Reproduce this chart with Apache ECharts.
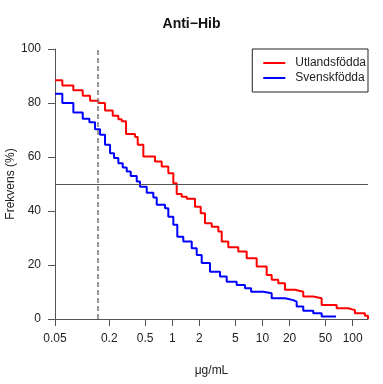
<!DOCTYPE html>
<html><head><meta charset="utf-8">
<script src="https://cdn.jsdelivr.net/npm/echarts@6/dist/echarts.min.js"></script>
<style>html,body{margin:0;padding:0;background:#fff}#c{width:383px;height:384px}</style>
</head><body><div id="c"></div>
<script>
const titleText = 'Anti\u2212Hib';
const seriesNames = ['Utlandsfödda', 'Svenskfödda'];
const xTicks = [0.05, 0.2, 0.5, 1, 2, 5, 10, 20, 50, 100];
const yTicks = [0, 20, 40, 60, 80, 100];
const cutoff = 0.15;
const refLevel = 50;

const redX = [0.05, 0.0603, 0.0799, 0.1015, 0.1224, 0.1512, 0.1794, 0.2184, 0.252, 0.2748, 0.3067, 0.3859, 0.4134, 0.4771, 0.643, 0.7629, 0.903, 1.026, 1.119, 1.271, 1.444, 1.785, 2.065, 2.304, 2.734, 3.236, 3.53, 4.177, 5.393, 6.68, 8.625, 11.13, 12.65, 14.97, 17.76, 22.93, 28.34, 36.58, 45.33, 66.46, 89.39, 106.1, 136.9, 148];
const redY = [88.4, 86.5, 84.7, 82.7, 80.8, 80.0, 77.2, 75.3, 74.0, 73.2, 68.5, 67.4, 64.5, 60.2, 58.3, 56.5, 54.0, 50.3, 46.3, 45.3, 44.5, 41.6, 39.2, 35.5, 34.2, 32.4, 28.7, 26.6, 25.0, 22.5, 19.4, 16.3, 14.5, 13.2, 10.8, 10.1, 8.3, 7.7, 5.2, 4.0, 3.3, 2.1, 1.2, 0];
const blueX = [0.05, 0.0603, 0.0799, 0.1015, 0.1202, 0.139, 0.158, 0.1794, 0.2039, 0.2258, 0.252, 0.2818, 0.3122, 0.3457, 0.4031, 0.4384, 0.5202, 0.6158, 0.6715, 0.83, 0.903, 1.026, 1.136, 1.324, 1.641, 1.865, 2.118, 2.618, 3.38, 4.01, 5.176, 6.397, 7.486, 10.21, 12.65, 17.76, 21.95, 23.94, 28.34, 36.58, 45.33, 65.3];
const blueY = [83.4, 80.0, 76.5, 74.2, 72.9, 70.3, 68.2, 64.5, 61.4, 59.6, 57.7, 56.1, 54.6, 53.0, 50.9, 49.0, 46.8, 45.0, 42.3, 41.0, 37.9, 34.9, 30.5, 28.7, 26.2, 23.7, 20.7, 17.5, 15.7, 13.8, 12.6, 11.4, 10.1, 9.5, 7.7, 7.0, 6.4, 4.6, 3.1, 2.1, 0.9, 0.9];

const pairs = (xs, ys) => xs.map((x, i) => [x, ys[i]]);
const font = 'Liberation Sans, Arial, sans-serif';
const axisCol = '#555';

const chart = echarts.init(document.getElementById('c'), null, {renderer: 'canvas'});
chart.setOption({
  animation: false,
  backgroundColor: '#fff',
  title: {
    text: titleText, left: 'center', top: 12,
    textStyle: {fontFamily: font, fontSize: 14, fontWeight: 'bold', color: '#111'}
  },
  grid: {left: 55, right: 15, top: 49, bottom: 65, outerBoundsMode: 'none', containLabel: false},
  legend: {
    orient: 'vertical', right: 15, top: 49,
    backgroundColor: '#fff', borderColor: '#222', borderWidth: 1,
    padding: [7, 2, 7, 11], itemGap: 1, itemWidth: 22, itemHeight: 2,
    icon: 'rect',
    textStyle: {fontFamily: font, fontSize: 12, color: '#222', lineHeight: 14, padding: [0, 0, 0, 5]},
    data: seriesNames
  },
  xAxis: {
    type: 'log', logBase: 10, min: 0.05, max: 148,
    name: 'μg/mL', nameLocation: 'middle', nameGap: 46, nameMoveOverlap: false,
    nameTextStyle: {fontFamily: font, fontSize: 12, color: '#222'},
    axisLine: {show: true, lineStyle: {color: axisCol, width: 1}},
    axisTick: {show: true, length: 7, inside: false, customValues: xTicks, lineStyle: {color: axisCol}},
    axisLabel: {customValues: xTicks, margin: 14, fontFamily: font, fontSize: 12, color: '#222',
      formatter: v => String(+v.toPrecision(3))},
    splitLine: {show: false}, minorTick: {show: false}
  },
  yAxis: {
    type: 'value', min: 0, max: 100, interval: 20,
    name: 'Frekvens (%)', nameLocation: 'middle', nameGap: 38, nameRotate: 90, nameMoveOverlap: false,
    nameTextStyle: {fontFamily: font, fontSize: 12, color: '#222'},
    axisLine: {show: true, lineStyle: {color: axisCol, width: 1}},
    axisTick: {show: true, length: 7, inside: false, lineStyle: {color: axisCol}},
    axisLabel: {margin: 14, fontFamily: font, fontSize: 12, color: '#222', customValues: yTicks},
    splitLine: {show: false}
  },
  series: [
    {
      name: seriesNames[0], type: 'line', step: 'end', symbol: 'none',
      data: pairs(redX, redY), color: '#ff0000',
      lineStyle: {width: 2, color: '#ff0000'}, z: 3,
      markLine: {
        silent: true, symbol: 'none', label: {show: false},
        data: [
          {yAxis: refLevel, lineStyle: {color: '#555', width: 1, type: 'solid'}},
          {xAxis: cutoff, lineStyle: {color: '#777', width: 1.5, type: [5, 3]}}
        ]
      }
    },
    {
      name: seriesNames[1], type: 'line', step: 'end', symbol: 'none',
      data: pairs(blueX, blueY), color: '#0000ff',
      lineStyle: {width: 2, color: '#0000ff'}, z: 2
    }
  ]
});
</script></body></html>
